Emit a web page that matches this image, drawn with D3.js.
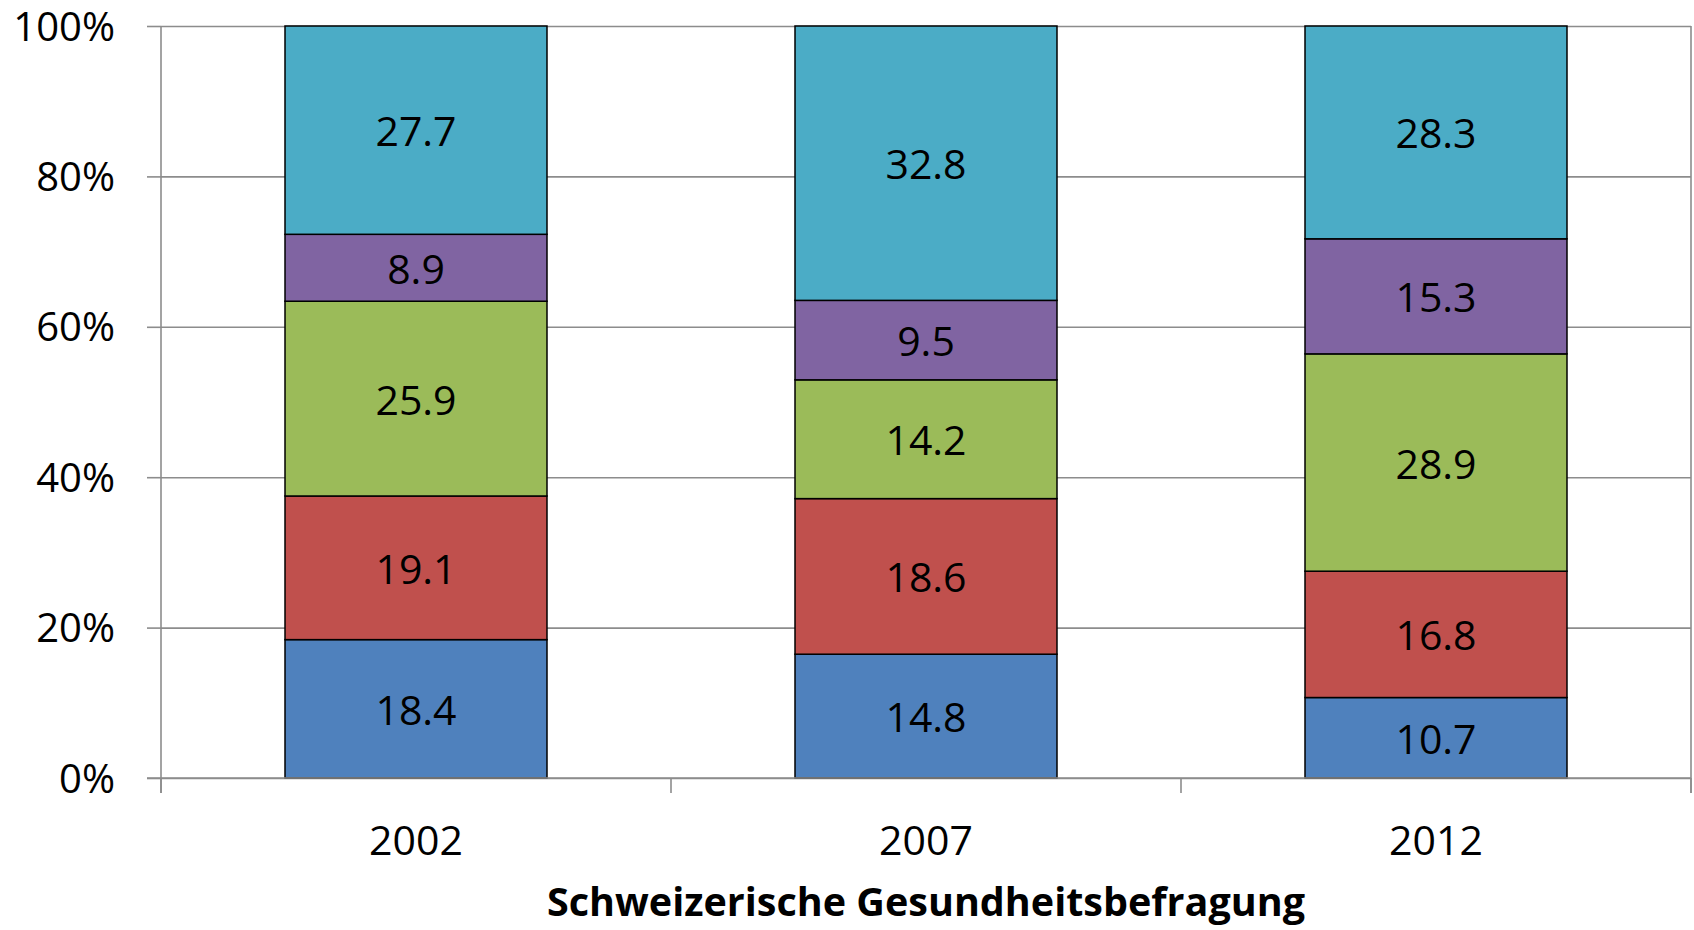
<!DOCTYPE html>
<html>
<head>
<meta charset="utf-8">
<script src="https://cdn.jsdelivr.net/npm/d3@7"></script>
<style>
  html, body { margin: 0; padding: 0; background: #fff; }
  svg { display: block; font-family: "Open Sans", sans-serif; }
</style>
</head>
<body>
<svg id="canvas"></svg>
<script>
let years = ["2002", "2007", "2012"];
let serie1 = [18.4, 14.8, 10.7];
let serie2 = [19.1, 18.6, 16.8];
let serie3 = [25.9, 14.2, 28.9];
let serie4 = [8.9, 9.5, 15.3];
let serie5 = [27.7, 32.8, 28.3];
let keys = ["s1", "s2", "s3", "s4", "s5"];
let colors = ["#4f81bd", "#c0504d", "#9bbb59", "#8064a2", "#4bacc6"];
let yTicks = [0, 0.2, 0.4, 0.6, 0.8, 1];
let xTitle = "Schweizerische Gesundheitsbefragung";

let width = 1694;
let height = 930;
let plotLeft = 161, plotRight = 1691, plotTop = 26, plotBottom = 778;

let canvas = d3.select("#canvas").attr("width", width).attr("height", height);

let rows = years.map((y, i) => ({
    year: y, s1: serie1[i], s2: serie2[i], s3: serie3[i], s4: serie4[i], s5: serie5[i]
}));

let stacked = d3.stack().keys(keys).offset(d3.stackOffsetExpand)(rows);

let xScale = d3.scaleBand()
    .domain(years)
    .range([plotLeft, plotRight])
    .paddingInner(0.4863)
    .paddingOuter(0.4863 / 2);

let yScale = d3.scaleLinear().domain([0, 1]).range([plotBottom, plotTop]);

// gridlines
canvas.append("g")
    .attr("transform", "translate(" + plotLeft + ",0)")
    .call(d3.axisLeft(yScale).tickValues(yTicks).tickSize(-(plotRight - plotLeft)).tickFormat(""))
    .call(g => g.select(".domain").remove())
    .call(g => g.selectAll("line").attr("stroke", "#8c8c8c").attr("stroke-width", 1.6));

// bars
let layer = canvas.append("g").selectAll("g")
    .data(stacked)
    .enter()
    .append("g")
    .attr("fill", (d, i) => colors[i]);

layer.selectAll("rect")
    .data(d => d)
    .enter()
    .append("rect")
    .attr("x", d => xScale(d.data.year))
    .attr("width", xScale.bandwidth())
    .attr("y", d => yScale(d[1]))
    .attr("height", d => yScale(d[0]) - yScale(d[1]))
    .attr("stroke", "#000")
    .attr("stroke-width", 1.5);

// value labels
stacked.forEach(s => {
    canvas.append("g").selectAll("text")
        .data(s)
        .enter()
        .append("text")
        .attr("x", d => xScale(d.data.year) + xScale.bandwidth() / 2)
        .attr("y", d => (yScale(d[0]) + yScale(d[1])) / 2)
        .attr("text-anchor", "middle")
        .attr("dominant-baseline", "central")
        .attr("font-size", 41)
        .attr("fill", "#000")
        .text(d => d.data[s.key].toFixed(1));
});

// y axis
canvas.append("g")
    .attr("transform", "translate(" + plotLeft + ",0)")
    .call(d3.axisLeft(yScale).tickValues(yTicks).tickSize(14).tickPadding(32).tickFormat(d3.format(".0%")))
    .call(g => g.select(".domain").remove())
    .call(g => g.selectAll("line").attr("stroke", "#8c8c8c").attr("stroke-width", 1.6))
    .call(g => g.selectAll("text").attr("font-size", 40).attr("fill", "#000")
        .attr("font-family", "Open Sans, sans-serif").attr("dy", "0.35em"));

// axis lines
let axisColor = "#8c8c8c";
canvas.append("line")
    .attr("x1", plotLeft).attr("x2", plotLeft).attr("y1", plotTop).attr("y2", plotBottom + 15)
    .attr("stroke", axisColor).attr("stroke-width", 1.6);
canvas.append("line")
    .attr("x1", plotRight).attr("x2", plotRight).attr("y1", plotTop).attr("y2", plotBottom + 15)
    .attr("stroke", axisColor).attr("stroke-width", 1.6);
canvas.append("line")
    .attr("x1", plotLeft - 14).attr("x2", plotRight).attr("y1", plotBottom).attr("y2", plotBottom)
    .attr("stroke", axisColor).attr("stroke-width", 1.6);

// category boundary ticks
let bounds = d3.range(years.length + 1).map(i => plotLeft + i * xScale.step());
canvas.append("g").selectAll("line")
    .data(bounds)
    .enter()
    .append("line")
    .attr("x1", d => d).attr("x2", d => d)
    .attr("y1", plotBottom).attr("y2", plotBottom + 15)
    .attr("stroke", axisColor).attr("stroke-width", 1.6);

// x axis labels
canvas.append("g")
    .attr("transform", "translate(0," + plotBottom + ")")
    .call(d3.axisBottom(xScale).tickSize(0).tickPadding(0))
    .call(g => g.select(".domain").remove())
    .call(g => g.selectAll("text").attr("font-size", 41).attr("fill", "#000")
        .attr("font-family", "Open Sans, sans-serif").attr("dy", null)
        .attr("y", 61).attr("dominant-baseline", "central"));

// x title
canvas.append("text")
    .attr("x", (plotLeft + plotRight) / 2)
    .attr("y", 916)
    .attr("text-anchor", "middle")
    .attr("font-size", 39.5)
    .attr("font-weight", "bold")
    .attr("fill", "#000")
    .text(xTitle);
</script>
</body>
</html>
